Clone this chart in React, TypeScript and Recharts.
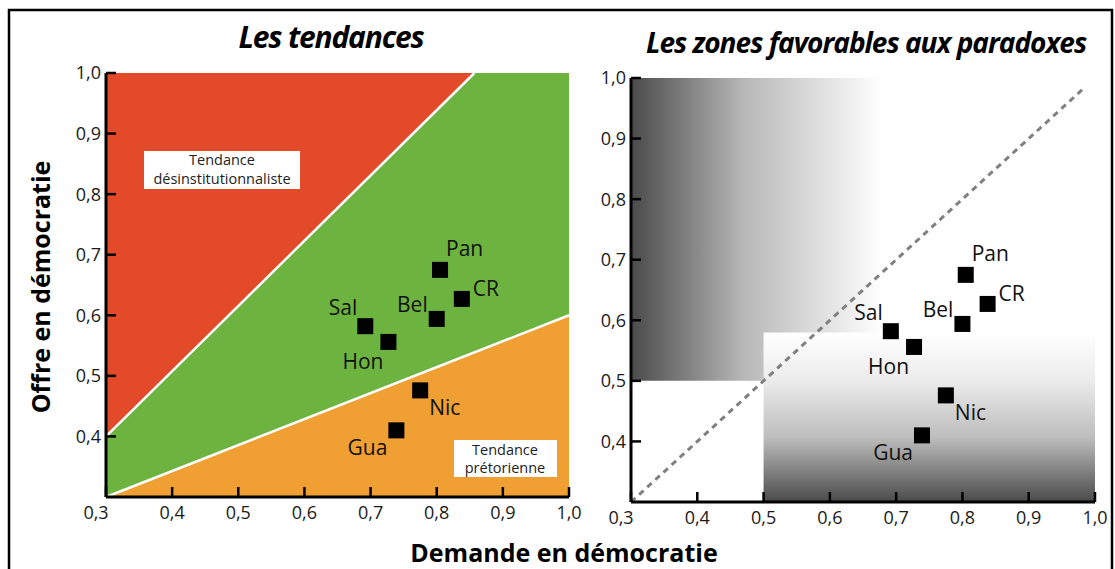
import React from 'react';
import { ScatterChart, Scatter, XAxis, YAxis, ReferenceArea, ReferenceLine } from 'recharts';

// pays et scores (demande en x, offre en y)
const countries = ['Pan', 'CR', 'Bel', 'Sal', 'Hon', 'Nic', 'Gua'];
const demande = [0.805, 0.838, 0.8, 0.692, 0.727, 0.775, 0.739];
const offre = [0.675, 0.627, 0.594, 0.582, 0.556, 0.476, 0.41];

const xTicks = [0.3, 0.4, 0.5, 0.6, 0.7, 0.8, 0.9, 1.0];
const yTicks = [0.4, 0.5, 0.6, 0.7, 0.8, 0.9, 1.0];

// frontières des tendances (graphique de gauche)
const redLineX = [0.3, 0.857];
const redLineY = [0.4, 1.0];
const orangeLineX = [0.3, 1.0];
const orangeLineY = [0.3, 0.6];

// zones favorables aux paradoxes (graphique de droite)
const diagX = [0.3, 0.985];
const diagY = [0.3, 0.985];
const upperZoneX = [0.3, 0.68];
const upperZoneY = [0.5, 1.0];
const lowerZoneX = [0.5, 1.0];
const lowerZoneY = [0.3, 0.58];

const points = countries.map((name, i) => ({ name, x: demande[i], y: offre[i] }));

const labelPos: Record<string, { dx: number; dy: number; anchor: 'start' | 'end' }> = {
  Pan: { dx: 6, dy: -14, anchor: 'start' },
  CR: { dx: 11, dy: -3, anchor: 'start' },
  Bel: { dx: -9, dy: -7, anchor: 'end' },
  Sal: { dx: -8, dy: -11, anchor: 'end' },
  Hon: { dx: -5, dy: 27, anchor: 'end' },
  Nic: { dx: 9, dy: 25, anchor: 'start' },
  Gua: { dx: -9, dy: 25, anchor: 'end' },
};

const FONT = '"Open Sans", "Noto Sans", sans-serif';
const RED = '#E34A29';
const GREEN = '#6DB33F';
const ORANGE = '#F0A033';

const fmt = (v: number) => v.toFixed(1).replace('.', ',');

const YTick = (props: any) => {
  const { x, y, payload } = props;
  return (
    <g>
      <line x1={x} y1={y} x2={x + 10} y2={y} stroke="#000" strokeWidth={2.5} />
      <text x={x - 5} y={y} dy="0.36em" textAnchor="end" fontSize={18} fontFamily={FONT} fill="#1a1a1a">
        {fmt(payload.value)}
      </text>
    </g>
  );
};

const XTick = (props: any) => {
  const { x, y, payload, index } = props;
  const shift = index === 0 ? -10 : 0;
  return (
    <g>
      <line x1={x} y1={y} x2={x} y2={y - 10} stroke="#000" strokeWidth={2.5} />
      <text x={x + shift} y={y + 22} textAnchor="middle" fontSize={18} fontFamily={FONT} fill="#1a1a1a">
        {fmt(payload.value)}
      </text>
    </g>
  );
};

const renderSquare = (props: any) => {
  const { cx, cy, payload } = props;
  const p = labelPos[payload.name];
  return (
    <g>
      <rect x={cx - 8} y={cy - 8} width={16} height={16} fill="#000" />
      <text x={cx + p.dx} y={cy + p.dy} textAnchor={p.anchor} fontSize={21} fontFamily={FONT} fill="#111">
        {payload.name}
      </text>
    </g>
  );
};

// triangle supérieur gauche du rectangle
const upperLeftTriangle = (props: any) => {
  const { x, y, width, height, fill } = props;
  return <polygon points={`${x},${y + height} ${x + width},${y} ${x},${y}`} fill={fill} />;
};

// triangle inférieur droit du rectangle
const lowerRightTriangle = (props: any) => {
  const { x, y, width, height, fill } = props;
  return <polygon points={`${x},${y + height} ${x + width},${y + height} ${x + width},${y}`} fill={fill} />;
};

const axisLine = { stroke: '#000', strokeWidth: 3 };

const LeftChart = () => (
  <ScatterChart width={600} height={569} margin={{ top: 73, right: 31, bottom: 71, left: 105 }}>
    <ReferenceArea x1={0.3} x2={1} y1={0.3} y2={1} fill={GREEN} fillOpacity={1} stroke="none" />
    <ReferenceArea
      x1={redLineX[0]} x2={redLineX[1]} y1={redLineY[0]} y2={redLineY[1]}
      fill={RED} fillOpacity={1} shape={upperLeftTriangle}
    />
    <ReferenceArea
      x1={orangeLineX[0]} x2={orangeLineX[1]} y1={orangeLineY[0]} y2={orangeLineY[1]}
      fill={ORANGE} fillOpacity={1} shape={lowerRightTriangle}
    />
    <ReferenceLine
      segment={[{ x: redLineX[0], y: redLineY[0] }, { x: redLineX[1], y: redLineY[1] }]}
      stroke="#fff" strokeWidth={2.5}
    />
    <ReferenceLine
      segment={[{ x: orangeLineX[0], y: orangeLineY[0] }, { x: orangeLineX[1], y: orangeLineY[1] }]}
      stroke="#fff" strokeWidth={2.5}
    />
    <Scatter data={points} shape={renderSquare} isAnimationActive={false} />
    <XAxis
      type="number" dataKey="x" domain={[0.3, 1]} ticks={xTicks} height={1}
      tickSize={0} tickMargin={0} tickLine={false} axisLine={axisLine} tick={<XTick />} interval={0}
      allowDataOverflow
    />
    <YAxis
      type="number" dataKey="y" domain={[0.3, 1]} ticks={yTicks} width={1}
      tickSize={0} tickMargin={0} tickLine={false} axisLine={axisLine} tick={<YTick />} interval={0}
      allowDataOverflow
    />
  </ScatterChart>
);

const RightChart = () => (
  <ScatterChart width={555} height={569} margin={{ top: 78, right: 20, bottom: 66, left: 70 }}>
    <defs>
      <linearGradient id="gradUpper" x1="0" y1="0" x2="1" y2="0">
        <stop offset="0%" stopColor="#4a4a4a" />
        <stop offset="45%" stopColor="#b8b8b8" />
        <stop offset="100%" stopColor="#ffffff" />
      </linearGradient>
      <linearGradient id="gradLower" x1="0" y1="0" x2="0" y2="1">
        <stop offset="0%" stopColor="#ffffff" />
        <stop offset="28%" stopColor="#ececec" />
        <stop offset="62%" stopColor="#bdbdbd" />
        <stop offset="100%" stopColor="#4a4a4a" />
      </linearGradient>
    </defs>
    <ReferenceArea
      x1={upperZoneX[0]} x2={upperZoneX[1]} y1={upperZoneY[0]} y2={upperZoneY[1]}
      fill="url(#gradUpper)" fillOpacity={1} stroke="none"
    />
    <ReferenceArea
      x1={lowerZoneX[0]} x2={lowerZoneX[1]} y1={lowerZoneY[0]} y2={lowerZoneY[1]}
      fill="url(#gradLower)" fillOpacity={1} stroke="none"
    />
    <ReferenceLine
      segment={[{ x: diagX[0], y: diagY[0] }, { x: diagX[1], y: diagY[1] }]}
      stroke="#808080" strokeWidth={3} strokeDasharray="6 5"
    />
    <Scatter data={points} shape={renderSquare} isAnimationActive={false} />
    <XAxis
      type="number" dataKey="x" domain={[0.3, 1]} ticks={xTicks} height={1}
      tickSize={0} tickMargin={0} tickLine={false} axisLine={axisLine} tick={<XTick />} interval={0}
      allowDataOverflow
    />
    <YAxis
      type="number" dataKey="y" domain={[0.3, 1]} ticks={yTicks} width={1}
      tickSize={0} tickMargin={0} tickLine={false} axisLine={axisLine} tick={<YTick />} interval={0}
      allowDataOverflow
    />
  </ScatterChart>
);

export default function App() {
  return (
    <div style={{ position: 'absolute', left: 0, top: 0, width: 1115, height: 569, overflow: 'hidden', background: '#fff' }}>
      <div style={{ position: 'absolute', left: 0, top: 0 }}>
        <LeftChart />
      </div>
      <div style={{ position: 'absolute', left: 560, top: 0 }}>
        <RightChart />
      </div>
      <svg width={1115} height={569} style={{ position: 'absolute', left: 0, top: 0, pointerEvents: 'none' }}>
        <rect x={9} y={10} width={1103} height={600} fill="none" stroke="#000" strokeWidth={2.5} />
        <text x={331} y={48} textAnchor="middle" fontSize={30} fontWeight={700} fontStyle="italic" fontFamily={FONT} letterSpacing={-1.2}>
          Les tendances
        </text>
        <text x={866} y={53} textAnchor="middle" fontSize={28} fontWeight={700} fontStyle="italic" fontFamily={FONT} letterSpacing={-1}>
          Les zones favorables aux paradoxes
        </text>
        <text
          x={40} y={287} textAnchor="middle" dominantBaseline="central" fontSize={25} fontWeight={700}
          fontFamily={FONT} transform="rotate(-90 40 287)"
        >
          Offre en démocratie
        </text>
        <text x={564} y={562} textAnchor="middle" fontSize={25} fontWeight={700} fontFamily={FONT}>
          Demande en démocratie
        </text>
        <rect x={144} y={151} width={156} height={38} fill="#fff" />
        <text x={222} y={165} textAnchor="middle" fontSize={14.5} fontFamily={FONT} fill="#222">Tendance</text>
        <text x={222} y={184} textAnchor="middle" fontSize={14.5} fontFamily={FONT} fill="#222">désinstitutionnaliste</text>
        <rect x={454} y={440} width={103} height={37} fill="#fff" />
        <text x={505} y={455} textAnchor="middle" fontSize={14.5} fontFamily={FONT} fill="#222">Tendance</text>
        <text x={505} y={473} textAnchor="middle" fontSize={14.5} fontFamily={FONT} fill="#222">prétorienne</text>
      </svg>
    </div>
  );
}
